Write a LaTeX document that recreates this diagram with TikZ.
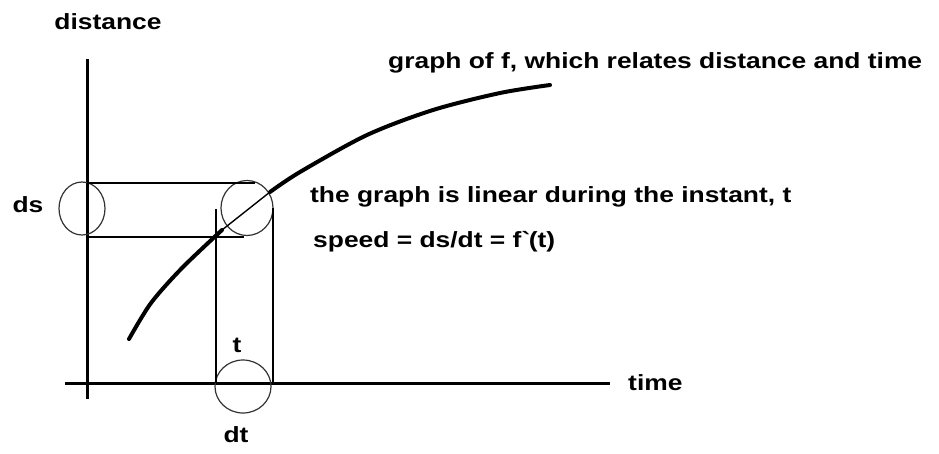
\documentclass[tikz,border=0pt]{standalone}
\usepackage{fontspec}
\newfontfamily\lblfont{Liberation Sans}[FakeStretch=1.2]
\usetikzlibrary{positioning,calc}

\tikzset{
    lbl/.style={font=\lblfont\bfseries\fontsize{22}{26}\selectfont, inner sep=0pt},
    ring/.style={draw=black!80, line width=1.2pt},
    guide/.style={line width=1.4pt},
    axis/.style={line width=3pt},
    fcurve/.style={line width=4pt, line cap=round}
}

\begin{document}
\begin{tikzpicture}[x=1pt, y=-1pt]
    \useasboundingbox (0,0) rectangle (939,453);
    % axes
    \draw[axis] (87,59) -- (87,399);
    \draw[axis] (65,383) -- (610,383);
    \node[lbl] (ylab) at (108,22) {distance};
    \node[lbl, anchor=west] (xlab) at (628,383) {time};
    % circles round ds, the instant and dt
    \draw[ring] (82,208.5) ellipse (23 and 26.5);
    \draw[ring] (247,208) ellipse (26 and 27.5);
    \draw[ring] (243,386.5) ellipse (28 and 26.5);
    % guide lines
    \draw[guide] (87,183) -- (255,183);
    \draw[guide] (87,237) -- (244,237);
    \draw[guide] (216,209) -- (216,383);
    \draw[guide] (273,208) -- (273,383);
    % graph of f
    \draw[fcurve] plot[smooth] coordinates {(129,339) (151,303) (182,268) (222,230)};
    \draw[guide] (222,230) -- (270,192);
    \draw[fcurve] plot[smooth] coordinates {(270,192) (300,172) (367,135) (433,110) (500,93) (550,85)};
    % labels
    \node[lbl] (ds) at (28,205) {ds};
    \node[lbl] (t) at (237,345) {t};
    \node[lbl] (dt) at (236,435) {dt};
    \node[lbl, anchor=west] (fname) at (388,63) {graph of f, which relates distance and time};
    \node[lbl, anchor=west] (linear) at (310,197) {the graph is linear during the instant, t};
    \node[lbl, anchor=west] (speed) at (313,242) {speed = ds/dt = f\textasciigrave(t)};
\end{tikzpicture}
\end{document}
